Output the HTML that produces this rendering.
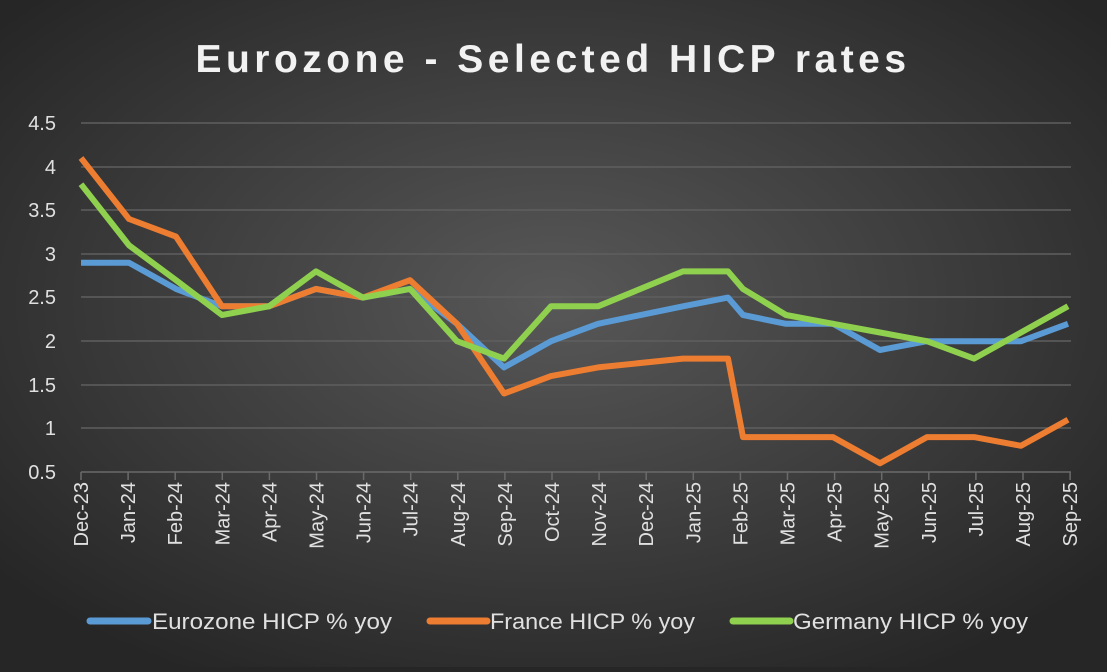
<!DOCTYPE html>
<html><head><style>
html,body{margin:0;padding:0;}
body{width:1107px;height:667px;overflow:hidden;background:#262626;}
</style></head><body>
<svg width="1107" height="667" xmlns="http://www.w3.org/2000/svg" font-family="Liberation Sans, sans-serif">
<defs>
<radialGradient id="bg" cx="50%" cy="45%" r="65%">
<stop offset="0" stop-color="#585858"/>
<stop offset="1" stop-color="#262626"/>
</radialGradient>
</defs>
<rect width="1107" height="667" fill="url(#bg)"/>
<text x="553" y="72" text-anchor="middle" font-size="39" font-weight="bold" fill="#f2f2f2" letter-spacing="4.5">Eurozone - Selected HICP rates</text>
<g stroke="#5f5f5f" stroke-width="1.5">
<line x1="81" x2="1071" y1="123" y2="123"/>
<line x1="81" x2="1071" y1="167" y2="167"/>
<line x1="81" x2="1071" y1="210" y2="210"/>
<line x1="81" x2="1071" y1="254" y2="254"/>
<line x1="81" x2="1071" y1="297" y2="297"/>
<line x1="81" x2="1071" y1="341" y2="341"/>
<line x1="81" x2="1071" y1="385" y2="385"/>
<line x1="81" x2="1071" y1="428" y2="428"/>
<line x1="81" x2="1071" y1="472" y2="472" stroke="#6a6a6a"/>
</g>
<g stroke="#6a6a6a" stroke-width="1.5" id="ticks"></g>
<g fill="#e0e0e0" font-size="20" text-anchor="end">
<text x="56" y="130">4.5</text>
<text x="56" y="174">4</text>
<text x="56" y="217">3.5</text>
<text x="56" y="261">3</text>
<text x="56" y="304">2.5</text>
<text x="56" y="348">2</text>
<text x="56" y="392">1.5</text>
<text x="56" y="435">1</text>
<text x="56" y="479">0.5</text>
</g>
<g id="xl" fill="#e0e0e0" font-size="20" text-anchor="end"></g>
<g fill="none" stroke-width="6" stroke-linejoin="round">
<polyline stroke="#5b9bd5" points="81,262.7 129,262.7 176,288.9 222,306.3 269,306.3 316,288.9 363,297.6 410,288.9 457,323.8 504,367.4 551,341.2 598,323.8 683,306.3 728,297.6 743,315 786,323.8 833,323.8 880,350 927,341.2 974,341.2 1021,341.2 1068,323.8"/>
<polyline stroke="#ed7d31" points="81,158 129,219 176,236.6 222,306.3 269,306.3 316,288.9 363,297.6 410,280.2 457,323.8 504,393.5 551,376.1 598,367.4 683,358.6 728,358.6 743,437.1 786,437.1 833,437.1 880,463.3 927,437.1 974,437.1 1021,445.8 1068,419.7"/>
<polyline stroke="#8fd14f" points="81,184.2 129,245.3 176,280.2 222,315 269,306.3 316,271.4 363,297.6 410,288.9 457,341.2 504,358.6 551,306.3 598,306.3 683,271.4 728,271.4 743,288.9 786,315 833,323.8 880,332.5 927,341.2 974,358.6 1021,332.5 1068,306.3"/>
</g>
<g font-size="22" fill="#e0e0e0">
<line x1="90" x2="148" y1="621" y2="621" stroke="#5b9bd5" stroke-width="7" stroke-linecap="round"/>
<text x="152" y="629" textLength="240" lengthAdjust="spacingAndGlyphs">Eurozone HICP % yoy</text>
<line x1="430" x2="487" y1="621" y2="621" stroke="#ed7d31" stroke-width="7" stroke-linecap="round"/>
<text x="490" y="629" textLength="205" lengthAdjust="spacingAndGlyphs">France HICP % yoy</text>
<line x1="733" x2="790" y1="621" y2="621" stroke="#8fd14f" stroke-width="7" stroke-linecap="round"/>
<text x="793" y="629" textLength="235" lengthAdjust="spacingAndGlyphs">Germany HICP % yoy</text>
</g>
</svg>
<script>
var labs=["Dec-23","Jan-24","Feb-24","Mar-24","Apr-24","May-24","Jun-24","Jul-24","Aug-24","Sep-24","Oct-24","Nov-24","Dec-24","Jan-25","Feb-25","Mar-25","Apr-25","May-25","Jun-25","Jul-25","Aug-25","Sep-25"];
var ns="http://www.w3.org/2000/svg",g=document.getElementById("xl"),t=document.getElementById("ticks");
labs.forEach(function(l,i){var x=81+i*47.1;
var tx=document.createElementNS(ns,"text");tx.setAttribute("transform","translate("+(x+7)+",482) rotate(-90)");tx.textContent=l;g.appendChild(tx);
var ln=document.createElementNS(ns,"line");ln.setAttribute("x1",x);ln.setAttribute("x2",x);ln.setAttribute("y1",472);ln.setAttribute("y2",480);t.appendChild(ln);});
</script>
</body></html>
